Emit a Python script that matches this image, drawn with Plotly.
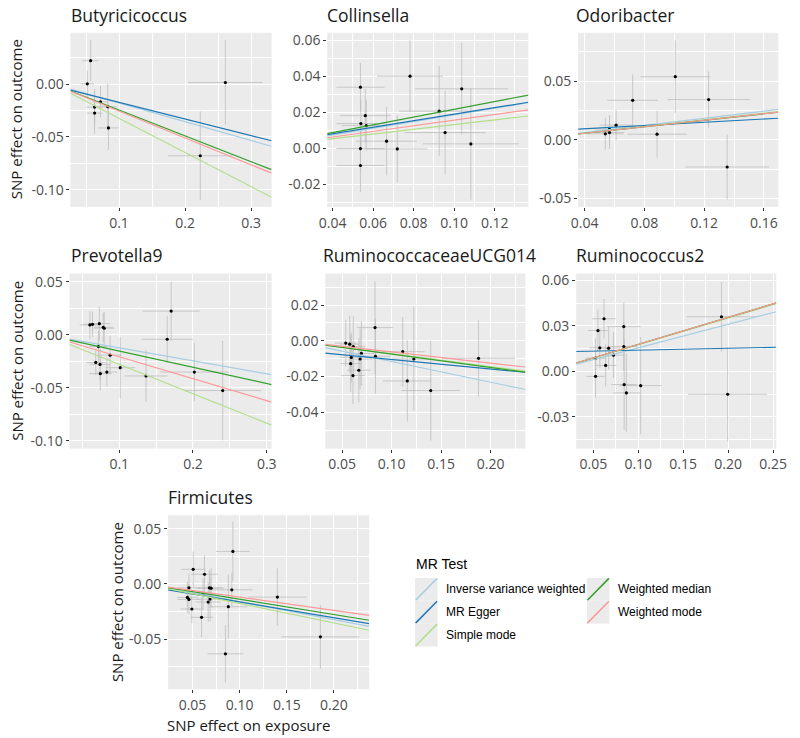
import plotly.graph_objects as go

W, H = 800, 738

# ---------------- data ----------------
methods = ["Inverse variance weighted", "MR Egger", "Simple mode", "Weighted median", "Weighted mode"]
method_colors = ["#a6cee3", "#1f78b4", "#b2df8a", "#33a02c", "#fb9a99"]

panel_names = ["Butyricicoccus", "Collinsella", "Odoribacter", "Prevotella9",
               "RuminococcaceaeUCG014", "Ruminococcus2", "Firmicutes"]

butyricicoccus_bx = [0.057, 0.052, 0.063, 0.063, 0.072, 0.083, 0.084, 0.223, 0.261]
butyricicoccus_by = [0.0223, 0.0003, -0.0217, -0.0274, -0.0167, -0.0214, -0.0415, -0.0679, 0.0016]
butyricicoccus_sx = [0.012, 0.010, 0.013, 0.012, 0.012, 0.014, 0.016, 0.049, 0.056]
butyricicoccus_sy = [0.0195, 0.0126, 0.017, 0.020, 0.015, 0.022, 0.021, 0.042, 0.040]

collinsella_bx = [0.0537, 0.0561, 0.0566, 0.0539, 0.0537, 0.0537, 0.0666, 0.0719, 0.0782, 0.0926, 0.0955, 0.1037, 0.1082]
collinsella_by = [0.0339, 0.0181, 0.0126, 0.0137, -0.0002, -0.0096, 0.0039, -0.0004, 0.0400, 0.0206, 0.0087, 0.0330, 0.0024]
collinsella_sx = [0.0119, 0.0125, 0.012, 0.0119, 0.0119, 0.0119, 0.015, 0.0149, 0.0163, 0.0198, 0.020, 0.023, 0.0238]
collinsella_sy = [0.0134, 0.015, 0.014, 0.013, 0.013, 0.0148, 0.019, 0.0187, 0.020, 0.025, 0.023, 0.0255, 0.031]

odoribacter_bx = [0.0539, 0.0567, 0.0567, 0.0611, 0.0722, 0.0885, 0.1007, 0.123, 0.1354]
odoribacter_by = [0.0051, 0.0062, 0.0091, 0.0125, 0.0337, 0.0048, 0.0538, 0.0343, -0.0232]
odoribacter_sx = [0.012, 0.010, 0.010, 0.011, 0.017, 0.020, 0.0234, 0.0275, 0.028]
odoribacter_sy = [0.0135, 0.014, 0.012, 0.013, 0.022, 0.020, 0.031, 0.024, 0.0277]

prevotella9_bx = [0.0602, 0.0637, 0.073, 0.0783, 0.0796, 0.0717, 0.0876, 0.0681, 0.0739, 0.0743,
                  0.0832, 0.1013, 0.1363, 0.165, 0.1704, 0.2018, 0.2403]
prevotella9_by = [0.0094, 0.010, 0.0106, 0.0072, 0.0063, -0.011, -0.0191, -0.026, -0.0279, -0.0366,
                  -0.0351, -0.031, -0.0388, -0.0041, 0.0225, -0.0351, -0.0526]
prevotella9_sx = [0.014, 0.013, 0.015, 0.013, 0.014, 0.012, 0.016, 0.013, 0.014, 0.015,
                  0.014, 0.020, 0.029, 0.035, 0.0387, 0.0465, 0.052]
prevotella9_sy = [0.013, 0.012, 0.016, 0.014, 0.015, 0.015, 0.018, 0.012, 0.015, 0.016,
                  0.014, 0.029, 0.0243, 0.022, 0.028, 0.0274, 0.047]

ruminococcaceae_bx = [0.0536, 0.0576, 0.0612, 0.0592, 0.0586, 0.0609, 0.0681, 0.0694, 0.0668, 0.0832,
                      0.0836, 0.1112, 0.1158, 0.1224, 0.1395, 0.1878]
ruminococcaceae_by = [-0.0013, -0.0019, -0.0032, -0.0093, -0.0128, -0.0195, -0.0102, -0.0071, -0.0165, 0.0074,
                      -0.0087, -0.0061, -0.0225, -0.0102, -0.0279, -0.0098]
ruminococcaceae_sx = [0.011, 0.010, 0.012, 0.011, 0.010, 0.012, 0.012, 0.013, 0.012, 0.0184,
                      0.016, 0.0222, 0.0247, 0.022, 0.0296, 0.037]
ruminococcaceae_sy = [0.013, 0.016, 0.017, 0.014, 0.016, 0.016, 0.017, 0.018, 0.018, 0.026,
                      0.021, 0.0195, 0.0228, 0.029, 0.028, 0.0214]

ruminococcus2_bx = [0.0525, 0.0525, 0.0551, 0.0572, 0.0619, 0.0637, 0.067, 0.0724, 0.0839, 0.0839,
                    0.0843, 0.0868, 0.1027, 0.1926, 0.1995]
ruminococcus2_by = [0.0087, -0.0033, 0.0269, 0.0155, 0.0347, 0.0039, 0.0153, 0.0107, 0.0295, 0.0164,
                    -0.0087, -0.0142, -0.0094, 0.036, -0.0151]
ruminococcus2_sx = [0.011, 0.010, 0.011, 0.012, 0.013, 0.012, 0.013, 0.012, 0.019, 0.015,
                    0.014, 0.015, 0.0235, 0.039, 0.044]
ruminococcus2_sy = [0.013, 0.014, 0.014, 0.013, 0.013, 0.014, 0.014, 0.015, 0.016, 0.016,
                    0.030, 0.026, 0.032, 0.023, 0.031]

firmicutes_bx = [0.0462, 0.0507, 0.0445, 0.0462, 0.0493, 0.0596, 0.0611, 0.0627, 0.0666, 0.0679,
                 0.0697, 0.0686, 0.088, 0.0849, 0.0917, 0.0928, 0.140, 0.1856]
firmicutes_by = [-0.0036, 0.0132, -0.0123, -0.0141, -0.0228, -0.0303, -0.0093, 0.0087, -0.0165, -0.0036,
                 -0.0039, -0.0138, -0.0207, -0.0634, -0.0054, 0.0294, -0.012, -0.048]
firmicutes_sx = [0.012, 0.013, 0.011, 0.012, 0.012, 0.012, 0.013, 0.014, 0.013, 0.013,
                 0.014, 0.014, 0.020, 0.019, 0.022, 0.018, 0.031, 0.0414]
firmicutes_sy = [0.013, 0.016, 0.014, 0.013, 0.013, 0.018, 0.014, 0.017, 0.018, 0.016,
                 0.018, 0.020, 0.029, 0.026, 0.015, 0.027, 0.026, 0.029]

# MR slopes per panel, method order as `methods` (None = not visible)
slopes = [
    [-0.178, -0.1575, -0.324, -0.245, -0.255],
    [0.185, 0.181, 0.131, 0.216, 0.156],
    [0.153, 0.0695, 0.142, 0.1386, 0.139],
    [-0.1226, None, -0.278, -0.153, -0.207],
    [-0.116, -0.0529, -0.072, -0.0748, -0.0625],
    [0.155, 0.0126, 0.176, 0.178, 0.178],
    [-0.162, -0.1435, -0.177, -0.139, -0.120],
]
egger_intercepts = [-0.0015, 0.0008, 0.0066, 0.0, -0.0052, 0.0127, -0.002]

x_ranges = [[0.0265, 0.331], [0.0373, 0.1366], [0.0357, 0.1696], [0.0325, 0.3066],
            [0.0329, 0.2352], [0.0309, 0.2536], [0.0241, 0.2374]]
y_ranges = [[-0.1164, 0.0487], [-0.0326, 0.0641], [-0.0572, 0.0912], [-0.1074, 0.058],
            [-0.0604, 0.0377], [-0.0509, 0.0645], [-0.0955, 0.0622]]

x_ticks = [[0.1, 0.2, 0.3], [0.04, 0.06, 0.08, 0.10, 0.12], [0.04, 0.08, 0.12, 0.16], [0.1, 0.2, 0.3],
           [0.05, 0.10, 0.15, 0.20], [0.05, 0.10, 0.15, 0.20, 0.25], [0.05, 0.10, 0.15, 0.20]]
x_dec = [1, 2, 2, 1, 2, 2, 2]
y_ticks = [[-0.10, -0.05, 0.00], [-0.02, 0.00, 0.02, 0.04, 0.06], [-0.05, 0.00, 0.05],
           [-0.10, -0.05, 0.00, 0.05], [-0.04, -0.02, 0.00, 0.02], [-0.03, 0.00, 0.03, 0.06],
           [-0.05, 0.00, 0.05]]
y_dec = [2, 2, 2, 2, 2, 2, 2]

panel_data = [
    (butyricicoccus_bx, butyricicoccus_by, butyricicoccus_sx, butyricicoccus_sy),
    (collinsella_bx, collinsella_by, collinsella_sx, collinsella_sy),
    (odoribacter_bx, odoribacter_by, odoribacter_sx, odoribacter_sy),
    (prevotella9_bx, prevotella9_by, prevotella9_sx, prevotella9_sy),
    (ruminococcaceae_bx, ruminococcaceae_by, ruminococcaceae_sx, ruminococcaceae_sy),
    (ruminococcus2_bx, ruminococcus2_by, ruminococcus2_sx, ruminococcus2_sy),
    (firmicutes_bx, firmicutes_by, firmicutes_sx, firmicutes_sy),
]

# ---------------- layout (pixel boxes) ----------------
panel_boxes = [  # x0, x1, y0(top), y1(bottom)
    (64, 270, 30, 205), (327, 533, 30, 205), (584, 789, 30, 205),
    (63, 270, 272, 448), (325, 530, 272, 448), (582, 787, 272, 448),
    (164, 370, 515, 690),
]
title_pos = [(62, 12), (325, 12), (580, 12), (62, 253), (321, 253), (580, 253), (162, 497)]

def px(x):
    return x / W

def py(y):
    return 1 - y / H

def fmt(v, d):
    s = f"{v:.{d}f}"
    if s.startswith("-") and float(s) == 0:
        s = s[1:]
    return s

def minor_vals(ticks, rng):
    step = ticks[1] - ticks[0]
    cands = [ticks[0] - step / 2] + [t + step / 2 for t in ticks]
    return [c for c in cands if rng[0] <= c <= rng[1]]

fig = go.Figure()
FONT = "Open Sans"
TICK_COL = "#4D4D4D"

for i in range(7):
    n = i + 1
    xa = "x" if n == 1 else f"x{n}"
    ya = "y" if n == 1 else f"y{n}"
    bx, by, sx, sy = panel_data[i]
    fig.add_trace(go.Scatter(
        x=bx, y=by, mode="markers", xaxis=xa, yaxis=ya, showlegend=False,
        marker=dict(color="black", size=3.2),
        error_x=dict(type="data", array=sx, color="#BEBEBE", thickness=0.8, width=0),
        error_y=dict(type="data", array=sy, color="#BEBEBE", thickness=0.8, width=0),
        hoverinfo="skip",
    ))
    xr = x_ranges[i]
    for m, (meth, col) in enumerate(zip(methods, method_colors)):
        s = slopes[i][m]
        if s is None:
            continue
        b0 = egger_intercepts[i] if meth == "MR Egger" else 0.0
        fig.add_trace(go.Scatter(
            x=[xr[0], xr[1]], y=[b0 + s * xr[0], b0 + s * xr[1]],
            mode="lines", xaxis=xa, yaxis=ya, showlegend=False,
            line=dict(color=col, width=1.2), hoverinfo="skip",
        ))
    x0, x1, y0, y1 = panel_boxes[i]
    xkey = "xaxis" if n == 1 else f"xaxis{n}"
    ykey = "yaxis" if n == 1 else f"yaxis{n}"
    fig.layout[xkey] = dict(
        domain=[px(x0), px(x1)], anchor=ya, range=xr,
        tickmode="array", tickvals=x_ticks[i], ticktext=[fmt(v, x_dec[i]) for v in x_ticks[i]],
        ticks="outside", ticklen=3, tickcolor="#333333", tickwidth=1,
        tickfont=dict(family=FONT, size=14, color=TICK_COL),
        showgrid=True, gridcolor="white", gridwidth=1.1, zeroline=False, showline=False,
        minor=dict(tickmode="array", tickvals=minor_vals(x_ticks[i], xr), showgrid=True,
                   gridcolor="white", gridwidth=0.5, ticks=""),
    )
    fig.layout[ykey] = dict(
        domain=[py(y1), py(y0)], anchor=xa, range=y_ranges[i],
        tickmode="array", tickvals=y_ticks[i], ticktext=[fmt(v, y_dec[i]) for v in y_ticks[i]],
        ticks="outside", ticklen=3, tickcolor="#333333", tickwidth=1,
        tickfont=dict(family=FONT, size=14, color=TICK_COL),
        showgrid=True, gridcolor="white", gridwidth=1.1, zeroline=False, showline=False,
        minor=dict(tickmode="array", tickvals=minor_vals(y_ticks[i], y_ranges[i]), showgrid=True,
                   gridcolor="white", gridwidth=0.5, ticks=""),
    )

annotations = []
for i, name in enumerate(panel_names):
    tx, ty = title_pos[i]
    annotations.append(dict(x=px(tx), y=py(ty), xref="paper", yref="paper", text=name,
                            showarrow=False, xanchor="left", yanchor="middle",
                            font=dict(family=FONT, size=17.5, color="#1a1a1a")))

# axis titles
for (tx, ty) in [(9, 117), (9, 360), (111, 602)]:
    annotations.append(dict(x=px(tx), y=py(ty), xref="paper", yref="paper",
                            text="SNP effect on outcome", textangle=-90, showarrow=False,
                            xanchor="center", yanchor="middle",
                            font=dict(family=FONT, size=15, color="#1a1a1a")))
annotations.append(dict(x=px(246), y=py(726), xref="paper", yref="paper",
                        text="SNP effect on exposure", showarrow=False,
                        xanchor="center", yanchor="middle",
                        font=dict(family=FONT, size=15, color="#1a1a1a")))

# legend (drawn manually, ggplot style)
LFONT = "Liberation Sans"
annotations.append(dict(x=px(416), y=py(564), xref="paper", yref="paper", text="MR Test",
                        showarrow=False, xanchor="left", yanchor="middle",
                        font=dict(family=LFONT, size=14, color="black")))
shapes = []
key_pos = [(417, 578), (417, 601), (417, 624), (593, 578), (593, 601)]
text_x = [447, 447, 447, 623, 623]
K = 23
for m, meth in enumerate(methods):
    kx, ky = key_pos[m]
    shapes.append(dict(type="rect", xref="paper", yref="paper",
                       x0=px(kx), x1=px(kx + K), y0=py(ky + K), y1=py(ky),
                       fillcolor="#EBEBEB", line=dict(width=0), layer="above"))
    shapes.append(dict(type="line", xref="paper", yref="paper",
                       x0=px(kx + 0.5), y0=py(ky + K - 0.5), x1=px(kx + K - 0.5), y1=py(ky + 0.5),
                       line=dict(color=method_colors[m], width=1.5), layer="above"))
    annotations.append(dict(x=px(text_x[m]), y=py(ky + K / 2), xref="paper", yref="paper",
                            text=meth, showarrow=False, xanchor="left", yanchor="middle",
                            font=dict(family=LFONT, size=12, color="black")))

fig.update_layout(
    width=W, height=H, margin=dict(l=0, r=0, t=0, b=0),
    paper_bgcolor="white", plot_bgcolor="#EBEBEB",
    showlegend=False, annotations=annotations, shapes=shapes,
)

fig.write_html("out.html")
